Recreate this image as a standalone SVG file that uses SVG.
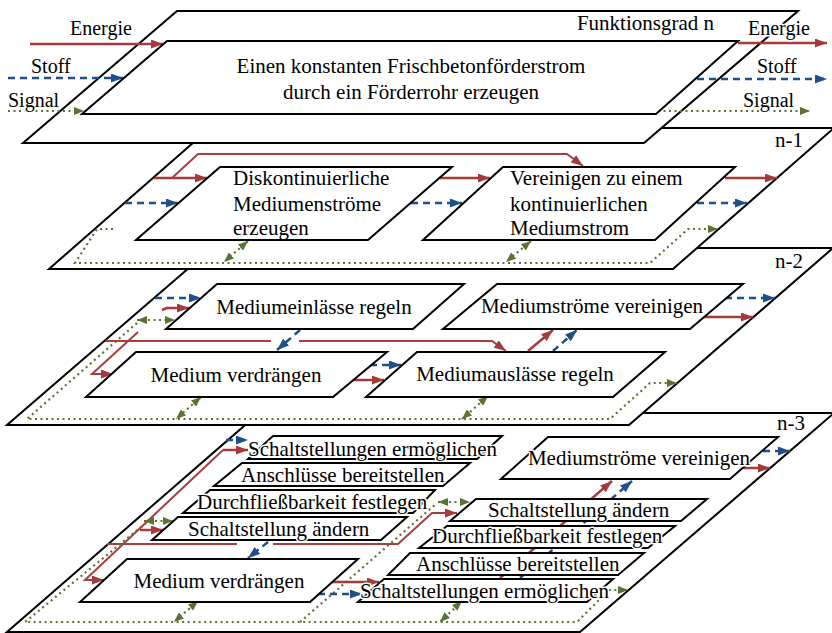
<svg xmlns="http://www.w3.org/2000/svg" width="832" height="633" viewBox="0 0 832 633">
<style>
.lay{fill:#fff;stroke:#000;stroke-width:2}
.box{fill:#fff;stroke:#000;stroke-width:2}
text{font-family:"Liberation Serif","Times New Roman",serif;font-size:21px;fill:#000}
.f{font-size:20px}
.h{paint-order:stroke;stroke:#fff;stroke-width:3px;stroke-linejoin:round}
.c{text-anchor:middle}
.e{fill:none;stroke:#a53a3a;stroke-width:2.5}
.e2{fill:none;stroke:#a83e3e;stroke-width:2}
.m{fill:none;stroke:#1f4e8a;stroke-width:2.5;stroke-dasharray:7 5}
.s{fill:none;stroke:#5a7232;stroke-width:2.2;stroke-dasharray:2 3.5}
</style>
<defs>
<marker id="ar" markerUnits="userSpaceOnUse" viewBox="0 0 12 9" refX="12" refY="4.5" markerWidth="12" markerHeight="9" orient="auto"><path d="M0,0L12,4.5L0,9z" fill="#a53a3a"/></marker>
<marker id="ab" markerUnits="userSpaceOnUse" viewBox="0 0 12 9" refX="12" refY="4.5" markerWidth="12" markerHeight="9" orient="auto"><path d="M0,0L12,4.5L0,9z" fill="#1f4e8a"/></marker>
<marker id="ag" markerUnits="userSpaceOnUse" viewBox="0 0 10 8" refX="10" refY="4" markerWidth="10" markerHeight="8" orient="auto-start-reverse"><path d="M0,0L10,4L0,8z" fill="#5a7232"/></marker>
</defs>

<g id="layer-n-3"><polygon class="lay" points="259,413 834,413 580,632 7,632"/><text x="777" y="430">n-3</text></g>
<g id="layer-n-2"><polygon class="lay" points="212,248 833,248 629,425 7,425"/><text x="775" y="268">n-2</text></g>
<g id="layer-n-1"><polygon class="lay" points="210,128 834,128 673,269 49,269"/><text x="775" y="147">n-1</text></g>
<g id="layer-n"><polygon class="lay" points="177,11 798,11 644,143 23,143"/><text x="714" y="30" text-anchor="end">Funktionsgrad n</text></g>

<g id="connectors">
<path class="e" d="M30,44H163" marker-end="url(#ar)"/>
<path class="m" d="M8,78H123" marker-end="url(#ab)"/>
<path class="s" d="M8,111H84" marker-end="url(#ag)"/>
<path class="e" d="M738,43H827" marker-end="url(#ar)"/>
<path class="m" d="M697,79H827" marker-end="url(#ab)"/>
<path class="s" d="M658,111H810" marker-end="url(#ag)"/>

<path class="e" d="M154,178H207" marker-end="url(#ar)"/>
<path class="e2" d="M172,178L198,154H567L583,166" marker-end="url(#ar)"/>
<path class="e" d="M440,178H490" marker-end="url(#ar)"/>
<path class="e" d="M725,178H777" marker-end="url(#ar)"/>
<path class="m" d="M125,203H178" marker-end="url(#ab)"/>
<path class="m" d="M411,203H462" marker-end="url(#ab)"/>
<path class="m" d="M697,203H747" marker-end="url(#ab)"/>
<path class="s" d="M113,229H97L75,263H650L688,229H718" marker-end="url(#ag)"/>
<path class="s" d="M248,241L224,262" marker-start="url(#ag)" marker-end="url(#ag)"/>
<path class="s" d="M531,241L506,262" marker-start="url(#ag)" marker-end="url(#ag)"/>

<path class="m" d="M155,298H201" marker-end="url(#ab)"/>
<path class="e" d="M162,310L167,308H189" marker-end="url(#ar)"/>
<path class="s" d="M137,320H175" marker-start="url(#ag)" marker-end="url(#ag)"/>
<path class="s" d="M137,323L27,419H610L650,383H677" marker-end="url(#ag)"/>
<path class="e2" d="M105,341H271"/>
<path class="e2" d="M299,341H492L506,351" marker-end="url(#ar)"/>
<path class="e2" d="M138,332L92,374H113" marker-end="url(#ar)"/>
<path class="m" d="M300,330L277,350" marker-end="url(#ab)"/>
<path class="m" d="M370,365H401" marker-end="url(#ab)"/>
<path class="e" d="M352,380H384" marker-end="url(#ar)"/>
<path class="e" d="M528,351L553,330" marker-end="url(#ar)"/>
<path class="m" d="M553,351L577,330" marker-end="url(#ab)"/>
<path class="m" d="M725,298H775" marker-end="url(#ab)"/>
<path class="e" d="M703,317H753" marker-end="url(#ar)"/>
<path class="s" d="M201,397L176,419" marker-start="url(#ag)" marker-end="url(#ag)"/>
<path class="s" d="M488,396L462,419" marker-start="url(#ag)" marker-end="url(#ag)"/>

<path class="m" d="M226,440H248" marker-end="url(#ab)"/>
<path class="e" d="M223,450H248" marker-end="url(#ar)"/>
<path class="e2" d="M223,450L85,580H104" marker-end="url(#ar)"/>
<path class="e" d="M140,530H163" marker-end="url(#ar)"/>
<path class="e2" d="M107,544H237"/>
<path class="e2" d="M273,544H398L432,513H457" marker-end="url(#ar)"/>
<path class="m" d="M268,542L248,558" marker-end="url(#ab)"/>
<path class="s" d="M144,521H173" marker-start="url(#ag)" marker-end="url(#ag)"/>
<path class="s" d="M146,523L25,622H577L609,590H628" marker-end="url(#ag)"/>
<path class="s" d="M300,622L437,503"/>
<path class="s" d="M438,502H470" marker-start="url(#ag)" marker-end="url(#ag)"/>
<path class="s" d="M198,601L174,622" marker-start="url(#ag)" marker-end="url(#ag)"/>
<path class="s" d="M462,601L440,622" marker-start="url(#ag)" marker-end="url(#ag)"/>
<path class="e" d="M332,582H379" marker-end="url(#ar)"/>
<path class="m" d="M318,594H362" marker-end="url(#ab)"/>
<path class="e" d="M500,578L612,481" marker-end="url(#ar)"/>
<path class="m" d="M520,578L632,481" marker-end="url(#ab)"/>
<path class="e" d="M743,468H770" marker-end="url(#ar)"/>
<path class="m" d="M763,451H790" marker-end="url(#ab)"/>
</g>

<g id="n-main"><polygon class="box" points="167,41 738,41 656,114 82,114"/><text class="c" x="411" y="73">Einen konstanten Frischbetonförderstrom</text><text class="c" x="411" y="99">durch ein Förderrohr erzeugen</text></g>

<g id="n1-diskont"><polygon class="box" points="220,167 452,167 368,240 136,240"/><text x="233" y="185">Diskontinuierliche</text><text x="233" y="211">Mediumenströme</text><text x="233" y="235">erzeugen</text></g>
<g id="n1-vereinigen"><polygon class="box" points="503,167 735,167 655,240 423,240"/><text x="510" y="185">Vereinigen zu einem</text><text x="510" y="211">kontinuierlichen</text><text x="510" y="235">Mediumstrom</text></g>

<g id="n2-einlaesse"><polygon class="box" points="217,284 464,284 413,329 166,329"/><text class="c" x="314" y="314">Mediumeinlässe regeln</text></g>
<g id="n2-vereinigen"><polygon class="box" points="497,284 743,284 690,329 443,329"/><text class="c" x="592" y="313">Mediumströme vereinigen</text></g>
<g id="n2-verdraengen"><polygon class="box" points="136,352 387,352 333,397 86,397"/><text class="c" x="236" y="382">Medium verdrängen</text></g>
<g id="n2-auslaesse"><polygon class="box" points="417,352 665,352 613,397 366,397"/><text class="c" x="515" y="381">Mediumauslässe regeln</text></g>

<g id="n3-schaltstellungen-l"><polygon class="box" points="273,436 502,436 477,459 248,459"/><text class="h" x="248" y="456">Schaltstellungen ermöglichen</text></g>
<g id="n3-anschluesse-l"><polygon class="box" points="242,463 470,463 443,486 214,486"/><text class="h" x="241" y="482">Anschlüsse bereitstellen</text></g>
<g id="n3-durchfliess-l"><polygon class="box" points="210,490 435,490 413,513 183,513"/><text class="h" x="197" y="509">Durchfließbarkeit festlegen</text></g>
<g id="n3-schaltstellung-l"><polygon class="box" points="178,517 407,517 381,540 152,540"/><text class="h" x="188" y="536">Schaltstellung ändern</text></g>
<g id="n3-verdraengen"><polygon class="box" points="127,559 358,559 310,602 80,602"/><text class="c" x="219" y="588">Medium verdrängen</text></g>
<g id="n3-vereinigen"><polygon class="box" points="548,437 778,437 730,479 501,479"/><text class="c h" x="639" y="465">Mediumströme vereinigen</text></g>
<g id="n3-schaltstellung-r"><polygon class="box" points="476,499 707,499 681,521 450,521"/><text class="h" x="488" y="517">Schaltstellung ändern</text></g>
<g id="n3-durchfliess-r"><polygon class="box" points="447,526 675,526 648,548 419,548"/><text class="h" x="432" y="543">Durchfließbarkeit festlegen</text></g>
<g id="n3-anschluesse-r"><polygon class="box" points="410,553 644,553 618,575 388,575"/><text class="h" x="416" y="571">Anschlüsse bereitstellen</text></g>
<g id="n3-schaltstellungen-r"><polygon class="box" points="384,579 613,579 587,602 358,602"/><text class="h" x="360" y="598">Schaltstellungen ermöglichen</text></g>

<g id="flow-labels">
<text class="f h" x="70" y="35">Energie</text>
<text class="f h" x="31" y="73">Stoff</text>
<text class="f h" x="8" y="107">Signal</text>
<text class="f h" x="748" y="35">Energie</text>
<text class="f h" x="757" y="73">Stoff</text>
<text class="f h" x="743" y="107">Signal</text>
</g>
</svg>
